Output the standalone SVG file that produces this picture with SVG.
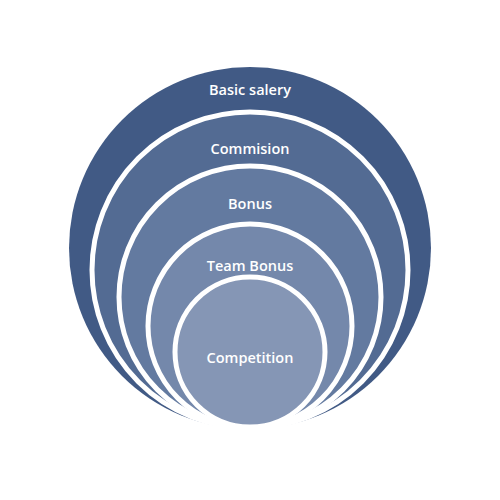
<svg xmlns="http://www.w3.org/2000/svg" width="500" height="500" viewBox="0 0 500 500">
<style>
.c{stroke:#ffffff;stroke-width:5}
.t{font-family:"Open Sans","Liberation Sans",sans-serif;font-size:14.5px;font-weight:600;fill:#ffffff;text-anchor:middle}
</style>
<rect width="500" height="500" fill="#ffffff"/>
<g id="basic-salery"><circle class="c" cx="250" cy="248" r="181" fill="#415a85" style="stroke:none"/><text class="t" x="250" y="95">Basic salery</text></g>
<g id="commision"><circle class="c" cx="250" cy="270" r="158" fill="#536b93"/><text class="t" x="250" y="154">Commision</text></g>
<g id="bonus"><circle class="c" cx="250" cy="297" r="131" fill="#637aa0"/><text class="t" x="250" y="209">Bonus</text></g>
<g id="team-bonus"><circle class="c" cx="250" cy="326" r="102" fill="#7488ab"/><text class="t" x="250" y="271">Team Bonus</text></g>
<g id="competition"><circle class="c" cx="250" cy="352" r="75" fill="#8596b5"/><text class="t" x="250" y="363">Competition</text></g>
<g id="connectors"/>
</svg>
